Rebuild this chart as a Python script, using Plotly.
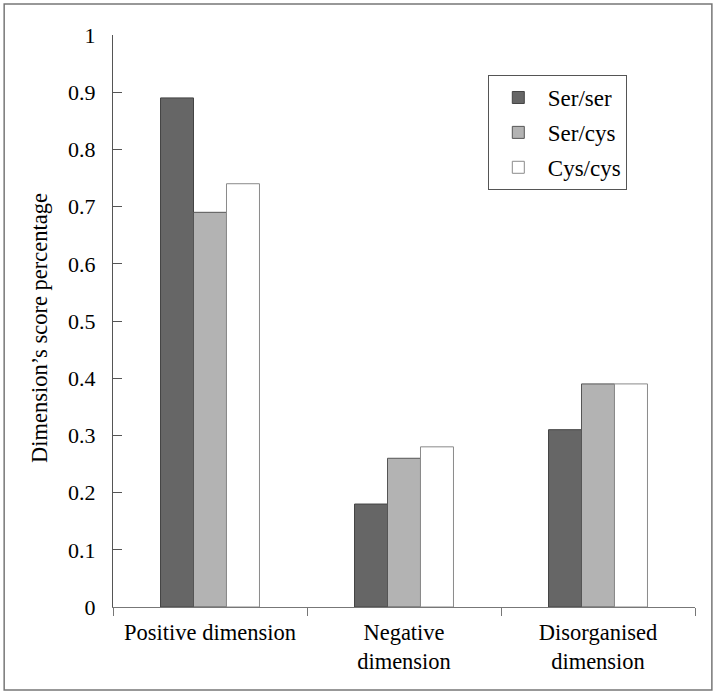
import plotly.graph_objects as go

categories = ["Positive dimension", "Negative<br>dimension", "Disorganised<br>dimension"]
ser_ser = [0.89, 0.18, 0.31]
ser_cys = [0.69, 0.26, 0.39]
cys_cys = [0.74, 0.28, 0.39]
y_ticks = [0, 0.1, 0.2, 0.3, 0.4, 0.5, 0.6, 0.7, 0.8, 0.9, 1]
y_tick_text = ["0", "0.1", "0.2", "0.3", "0.4", "0.5", "0.6", "0.7", "0.8", "0.9", "1"]
y_title = "Dimension’s score percentage"

FONT = "Liberation Serif"

series = [
    ("Ser/ser", ser_ser, "#666666", "#444444"),
    ("Ser/cys", ser_cys, "#b3b3b3", "#555555"),
    ("Cys/cys", cys_cys, "#ffffff", "#8a8a8a"),
]

fig = go.Figure()
for i, (name, vals, fill, line) in enumerate(series):
    fig.add_trace(go.Bar(
        x=categories, y=vals, name=name, legendgroup=f"g{i}",
        marker=dict(color=fill, line=dict(color=line, width=1)),
    ))

fig.update_layout(
    width=717, height=697,
    margin=dict(l=113, r=22, t=35, b=90),
    paper_bgcolor="white", plot_bgcolor="white",
    font=dict(family=FONT, size=19, color="black"),
    barmode="group", bargap=0.49, bargroupgap=0,
    showlegend=True,
    legend=dict(
        x=0.644, y=0.93, xanchor="left", yanchor="top",
        bordercolor="#555555", borderwidth=1,
        font=dict(family=FONT, size=23),
        tracegroupgap=2, itemwidth=49,
        entrywidth=110, entrywidthmode="pixels",
    ),
    xaxis=dict(
        showline=True, linecolor="#777777", linewidth=1,
        ticks="outside", tickson="boundaries", ticklen=8, tickcolor="#777777",
        showgrid=False, zeroline=False,
        tickfont=dict(family=FONT, size=22.5),
        ticklabelstandoff=5,
    ),
    yaxis=dict(
        range=[0, 1], tickvals=y_ticks, ticktext=y_tick_text,
        showline=True, linecolor="#555555", linewidth=1,
        ticks="inside", ticklen=9, tickcolor="#555555",
        showgrid=False, zeroline=False,
        tickfont=dict(family=FONT, size=22),
        ticklabelstandoff=12,
    ),
    annotations=[dict(
        text=y_title, textangle=-90, xref="paper", yref="paper",
        x=-0.1254, y=0.488, xanchor="center", yanchor="middle",
        showarrow=False, font=dict(family=FONT, size=22.5, color="black"),
    )],
    shapes=[dict(
        type="rect", xref="paper", yref="paper",
        x0=-0.187, x1=1.029, y0=-0.145, y1=1.054,
        line=dict(color="#777777", width=1.5), fillcolor="rgba(0,0,0,0)",
    )],
)

fig.write_html("out.html", config={"displayModeBar": False},
               post_script="document.body.style.margin='0px';")
